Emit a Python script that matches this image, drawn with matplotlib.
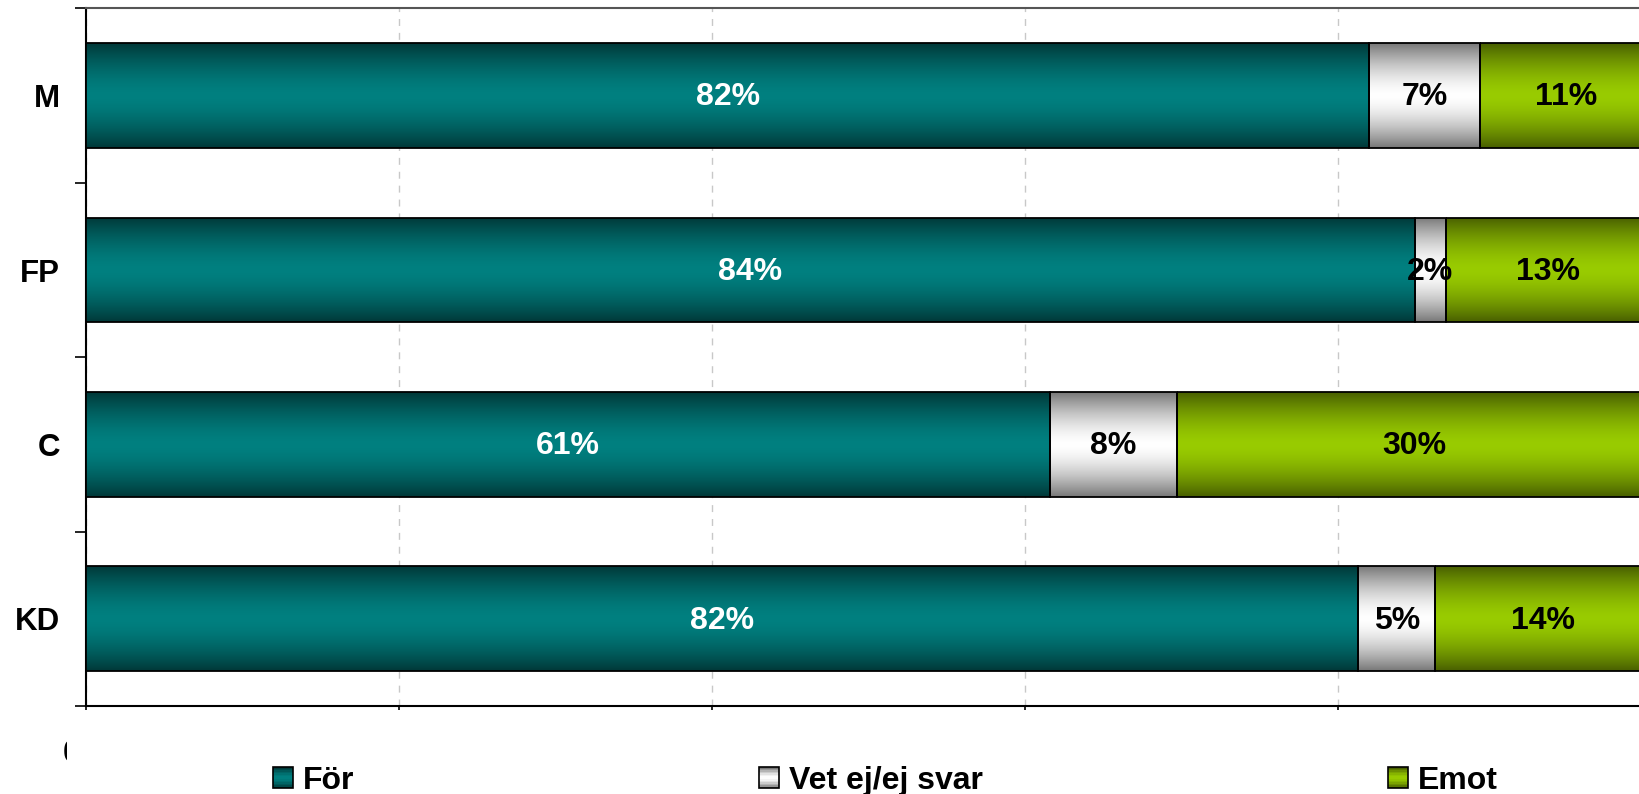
import numpy as np
import matplotlib
matplotlib.use("Agg")
import matplotlib.pyplot as plt
from matplotlib.patches import Rectangle
from matplotlib.colors import to_rgb
from matplotlib.legend_handler import HandlerBase

plt.rcParams['font.family'] = ['Liberation Sans', 'DejaVu Sans']
plt.rcParams['font.weight'] = 'bold'

# --- DATA ---
categories = ["M", "FP", "C", "KD"]
series = ["För", "Vet ej/ej svar", "Emot"]
for_vals = [82.0, 84.9, 61.6, 81.3]
vet_vals = [7.1, 2.0, 8.1, 4.9]
emot_vals = [10.9, 13.1, 30.3, 13.8]
for_labels = ["82%", "84%", "61%", "82%"]
vet_labels = ["7%", "2%", "8%", "5%"]
emot_labels = ["11%", "13%", "30%", "14%"]
x_ticks = [0, 20, 40, 60, 80, 100]
# only the 0% label peeks out from behind the legend band in the original
x_ticklabels = ["0%", "", "", "", "", ""]

# light centre, dark edge, label colour
styles = [("#008080", "#003838", "white"),
          ("#ffffff", "#777777", "black"),
          ("#99cc00", "#485f00", "black")]


def grad_colors(light, dark, n=256):
    t = np.abs(np.linspace(-1, 1, n)) ** 1.6
    l = np.array(to_rgb(light))
    d = np.array(to_rgb(dark))
    return l[None, :] * (1 - t[:, None]) + d[None, :] * t[:, None]


class GradHandler(HandlerBase):
    def __init__(self, light, dark):
        super().__init__()
        self.light, self.dark = light, dark

    def create_artists(self, legend, orig_handle, xdescent, ydescent,
                       width, height, fontsize, trans):
        n = 14
        cols = grad_colors(self.light, self.dark, n)
        arts = []
        for i in range(n):
            r = Rectangle((-xdescent, -ydescent + height * (n - 1 - i) / n), width, height / n,
                          facecolor=cols[i], edgecolor='none', transform=trans)
            arts.append(r)
        arts.append(Rectangle((-xdescent, -ydescent), width, height, facecolor='none',
                              edgecolor='black', lw=1.2, transform=trans))
        return arts


fig = plt.figure(figsize=(16.39, 7.94), dpi=100)
ax = fig.add_axes([86.4 / 1639, 88 / 794, 1564.5 / 1639, 697.6 / 794])

y = np.arange(len(categories)) + 0.5
all_vals = [for_vals, vet_vals, emot_vals]
all_labels = [for_labels, vet_labels, emot_labels]
left = np.zeros(len(categories))
for vals, labs, (light, dark, tc), name in zip(all_vals, all_labels, styles, series):
    bars = ax.barh(y, vals, left=left, height=0.6, facecolor='none',
                   edgecolor='black', linewidth=1.3, zorder=4, label=name)
    grad = grad_colors(light, dark)[:, None, :]
    for rect in bars:
        x0, y0 = rect.get_x(), rect.get_y()
        w, h = rect.get_width(), rect.get_height()
        im = ax.imshow(grad, extent=[x0, x0 + w, y0 + h, y0], aspect='auto',
                       interpolation='bilinear', zorder=3)
        im.set_clip_path(rect)
    for yi, l0, v, lab in zip(y, left, vals, labs):
        ax.text(l0 + v / 2, yi + 0.01, lab, ha='center', va='center', color=tc,
                fontsize=23, fontweight='bold', zorder=5)
    left += np.array(vals)

ax.set_xlim(0, 100)
ax.set_ylim(len(categories), 0)
ax.set_aspect('auto')

ax.set_xticks(x_ticks, x_ticklabels)
ax.tick_params(axis='x', length=3, width=1.2, pad=21, labelsize=23)
ax.set_yticks(y, categories)
ax.tick_params(axis='y', which='major', length=0, pad=19, labelsize=22.5)
ax.set_yticks(np.arange(len(categories) + 1), minor=True)
ax.tick_params(axis='y', which='minor', length=8, width=1.2)

ax.grid(axis='x', color='#c8c8c8', linestyle=(0, (5, 5)), linewidth=1, zorder=1)
ax.set_axisbelow(True)

ax.spines['right'].set_visible(False)
ax.spines['top'].set_color('#555555')
for s in ['left', 'bottom', 'top']:
    ax.spines[s].set_linewidth(1.5)

# white band that hides most of the x tick labels, as in the original
fig.add_artist(Rectangle((67 / 1639, 0), 1, 72 / 794, transform=fig.transFigure,
                         facecolor='white', edgecolor='none', zorder=1))

handles = [Rectangle((0, 0), 1, 1) for _ in series]
handler_map = {h: GradHandler(s[0], s[1]) for h, s in zip(handles, styles)}
leg = fig.legend(handles, series, handler_map=handler_map, loc='center left',
                 bbox_to_anchor=(273 / 1639, 13 / 794), ncol=3, frameon=False,
                 handlelength=0.62, handleheight=0.62,
                 handletextpad=0.3, columnspacing=12.7, borderpad=0, borderaxespad=0,
                 prop={'weight': 'bold', 'size': 23})
leg.set_zorder(5)

fig.savefig("out.png", dpi=100)
